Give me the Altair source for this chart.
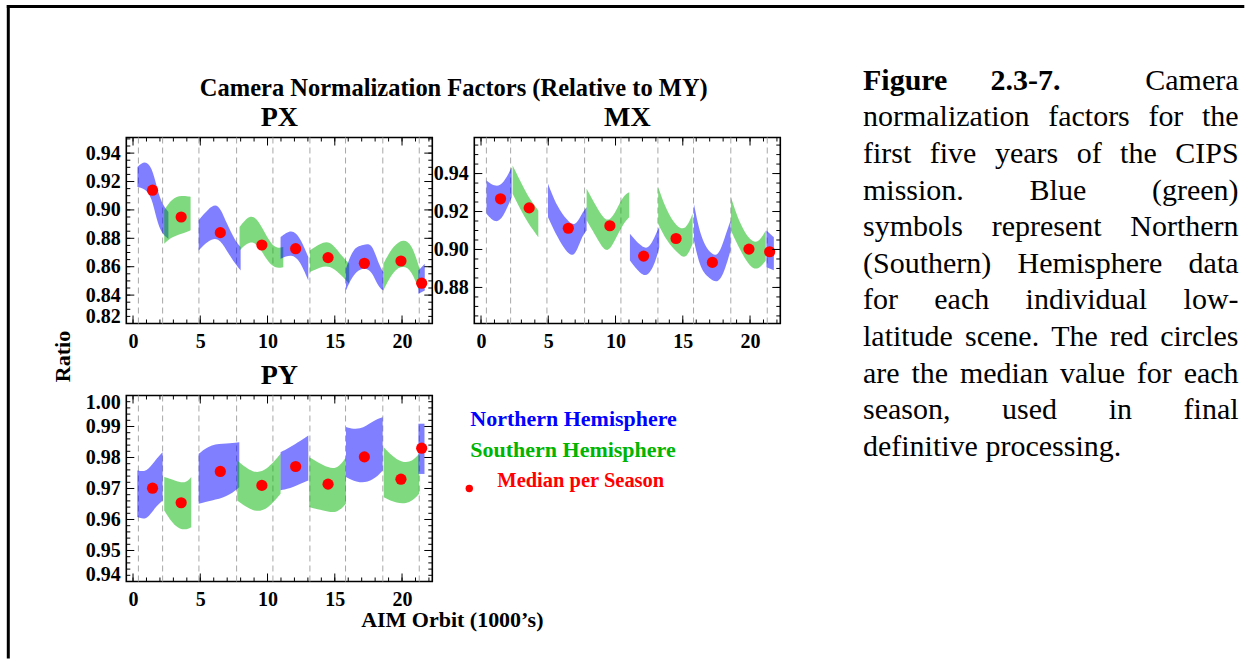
import altair as alt
import pandas as pd

FONT = "Liberation Serif"
BLUE = "#0000ff"
GREEN = "#00b400"
RED = "#ff0000"
W, H = 306, 186
CAP_W = 400

# ---------------- data ----------------
X_DOMAIN = [-0.5, 22.25]
X_MAJOR = [0, 5, 10, 15, 20]
X_MINOR = list(range(0, 23))
SEASON_LINES = [0.4, 2.2, 4.9, 7.7, 10.4, 13.15, 15.8, 18.57, 21.28]
HEMISPHERE = ["North", "South", "North", "South", "North", "South", "North", "South", "North"]

MEDIAN_ORBIT = [1.45, 3.58, 6.49, 9.58, 12.09, 14.5, 17.2, 19.92, 21.46]
PX_MEDIAN = [0.9139, 0.8950, 0.8840, 0.8753, 0.8727, 0.8664, 0.8624, 0.8640, 0.8484]
MX_MEDIAN = [0.9267, 0.9219, 0.9112, 0.9125, 0.8965, 0.9058, 0.8932, 0.9002, 0.8988]
PY_MEDIAN = [0.9701, 0.9654, 0.9755, 0.9710, 0.9771, 0.9714, 0.9802, 0.9730, 0.9830]

# scatter clouds, summarised per season as lower / upper envelope of the dense core
PX_ORBIT = [[0.33, 0.89, 1.39, 1.76, 2.13, 2.63], [2.32, 2.87, 3.62, 4.28],
            [4.88, 5.60, 6.34, 6.96, 7.58, 8.00], [7.92, 8.71, 9.33, 9.95, 10.55, 11.17],
            [10.97, 11.79, 12.41, 13.03], [13.15, 13.89, 14.63, 15.38, 16.07],
            [15.83, 16.38, 17.12, 17.74, 18.24, 18.61], [18.61, 19.35, 20.10, 20.71, 21.27],
            [21.22, 21.69]]
PX_LO = [[0.9162, 0.915, 0.9092, 0.8927, 0.8833, 0.8797], [0.8762, 0.8809, 0.8833, 0.8856],
         [0.8715, 0.8786, 0.8809, 0.8715, 0.8621, 0.8574], [0.8715, 0.8786, 0.8750, 0.8644, 0.8586, 0.8597],
         [0.8656, 0.8691, 0.8644, 0.8503], [0.8562, 0.8597, 0.8609, 0.855, 0.848],
         [0.8433, 0.855, 0.8597, 0.8574, 0.8456, 0.8433], [0.8433, 0.8574, 0.8609, 0.8574, 0.8433],
         [0.841, 0.8433]]
PX_HI = [[0.9303, 0.935, 0.9303, 0.9162, 0.9045, 0.8986], [0.8997, 0.908, 0.9103, 0.9092],
         [0.8927, 0.9009, 0.9056, 0.8903, 0.8786, 0.8738], [0.888, 0.8974, 0.8927, 0.8809, 0.8727, 0.8738],
         [0.8809, 0.8868, 0.8809, 0.8668], [0.8715, 0.8762, 0.8786, 0.8691, 0.8621],
         [0.8586, 0.8738, 0.875, 0.8774, 0.8621, 0.8562], [0.8621, 0.875, 0.8797, 0.8762, 0.8597],
         [0.8574, 0.8621]]

MX_ORBIT = [[0.41, 1.08, 1.66, 2.28], [2.35, 2.90, 3.52, 4.26],
            [4.98, 5.67, 6.41, 6.98, 7.48, 7.85], [7.85, 8.59, 9.34, 9.95, 10.57, 11.02],
            [11.07, 11.82, 12.44, 13.01, 13.25], [13.17, 13.79, 14.54, 15.23, 15.73],
            [15.83, 16.32, 17.02, 17.64, 18.13, 18.55], [18.58, 19.24, 19.98, 20.60, 21.17],
            [21.22, 21.77]]
MX_LO = [[0.9188, 0.9135, 0.917, 0.9275], [0.9293, 0.9214, 0.9135, 0.9065],
         [0.917, 0.9065, 0.8977, 0.896, 0.9065, 0.91], [0.9153, 0.9065, 0.8969, 0.9047, 0.9135, 0.917],
         [0.8942, 0.8872, 0.8854, 0.8942, 0.9012], [0.9135, 0.9047, 0.8986, 0.8942, 0.903],
         [0.9047, 0.889, 0.8846, 0.8819, 0.889, 0.8995], [0.91, 0.9, 0.8907, 0.889, 0.8942],
         [0.8907, 0.889]]
MX_HI = [[0.9363, 0.9328, 0.9346, 0.9433], [0.9442, 0.9363, 0.9275, 0.9205],
         [0.9346, 0.9223, 0.9153, 0.9118, 0.9188, 0.9223], [0.932, 0.9223, 0.9135, 0.9188, 0.9284, 0.9302],
         [0.9083, 0.9021, 0.8995, 0.9083, 0.9118], [0.9328, 0.9205, 0.9118, 0.91, 0.9188],
         [0.924, 0.9065, 0.8977, 0.896, 0.9065, 0.9153], [0.9275, 0.9135, 0.9047, 0.903, 0.91],
         [0.91, 0.9065]]

PY_ORBIT = [[0.32, 1.02, 1.64, 2.20], [2.32, 3.11, 3.87, 4.33],
            [4.88, 5.84, 6.96, 7.90], [7.75, 8.94, 9.93, 10.97],
            [10.97, 11.91, 13.03], [13.10, 14.14, 15.13, 15.83],
            [15.83, 16.87, 17.86, 18.56], [18.64, 19.59, 20.58, 21.27],
            [21.22, 21.67]]
PY_LO = [[0.9608, 0.9597, 0.964, 0.9661], [0.9629, 0.9575, 0.9565, 0.9575],
         [0.9651, 0.9661, 0.9672, 0.9704], [0.9661, 0.9624, 0.9629, 0.9683],
         [0.9694, 0.9704, 0.9726], [0.964, 0.9629, 0.9618, 0.9651],
         [0.9737, 0.9715, 0.9726, 0.9758], [0.9672, 0.9651, 0.9651, 0.9683],
         [0.9747, 0.9747]]
PY_HI = [[0.9758, 0.9753, 0.979, 0.9817], [0.9737, 0.9726, 0.9715, 0.9737],
         [0.9812, 0.9844, 0.9844, 0.9849], [0.979, 0.9747, 0.9758, 0.9812],
         [0.9817, 0.9839, 0.9871], [0.9801, 0.9774, 0.9758, 0.9801],
         [0.9898, 0.9887, 0.9919, 0.993], [0.9833, 0.979, 0.978, 0.9812],
         [0.9909, 0.9909]]

PX_DOMAIN = [0.82, 0.951]
MX_DOMAIN = [0.861, 0.959]
PY_DOMAIN = [0.94, 1.00]
PX_Y_MAJOR = [0.82, 0.84, 0.86, 0.88, 0.90, 0.92, 0.94]
MX_Y_MAJOR = [0.88, 0.90, 0.92, 0.94]
PY_Y_MAJOR = [0.94, 0.95, 0.96, 0.97, 0.98, 0.99, 1.00]
PX_Y_MINOR = [round(0.82 + 0.005 * i, 3) for i in range(27)]
MX_Y_MINOR = [round(0.865 + 0.005 * i, 3) for i in range(19)]
PY_Y_MINOR = [round(0.94 + 0.002 * i, 3) for i in range(31)]

CAPTION = [
    "Figure 2.3-7. Camera",
    "normalization factors for the",
    "first five years of the CIPS",
    "mission. Blue (green)",
    "symbols represent Northern",
    "(Southern) Hemisphere data",
    "for each individual low-",
    "latitude scene. The red circles",
    "are the median value for each",
    "season, used in final",
    "definitive processing.",
]
CAP_BOLD_WORDS = 2          # "Figure 2.3-7." is bold
FIRST_LINE_GAP_WEIGHTS = [1, 2]  # a tab follows the figure number

# ---------------- helpers ----------------
AX = dict(labelFont=FONT, labelFontWeight="bold", labelFontSize=20, labelColor="black",
          ticks=False, tickSize=0, domain=False, grid=False, title=None)


def label(text, x, y, size, color="black", align="center", baseline="middle", angle=0, weight="bold"):
    return alt.Chart(pd.DataFrame({"t": [text]})).mark_text(
        font=FONT, fontSize=size, fontWeight=weight, color=color, align=align,
        baseline=baseline, angle=angle).encode(x=alt.value(x), y=alt.value(y), text="t:N")


def panel(seg_orbit, seg_lo, seg_hi, medians, y_domain, y_major, y_minor):
    xs = alt.Scale(domain=X_DOMAIN, nice=False, zero=False)
    ys = alt.Scale(domain=y_domain, nice=False, zero=False)
    xa = alt.Axis(values=X_MAJOR, format="d", labelPadding=8, **AX)
    ya = alt.Axis(values=y_major, format=".2f", labelPadding=6, labelFlush=True,
                  labelFlushOffset=3, **AX)
    rows = []
    for k in range(len(seg_orbit)):
        for o, lo, hi in zip(seg_orbit[k], seg_lo[k], seg_hi[k]):
            rows.append({"seg": k, "hemi": HEMISPHERE[k], "orbit": o, "lo": lo, "hi": hi})
    bands_df = pd.DataFrame(rows)
    color = alt.Color("hemi:N", scale=alt.Scale(domain=["North", "South"], range=[BLUE, GREEN]),
                      legend=None)
    lines = alt.Chart(pd.DataFrame({"s": SEASON_LINES})).mark_rule(
        color="#a8a8a8", strokeDash=[6, 4], strokeWidth=1).encode(
        x=alt.X("s:Q", scale=xs, axis=xa))
    bands = alt.Chart(bands_df).mark_area(opacity=0.5, interpolate="basis").encode(
        x=alt.X("orbit:Q", scale=xs, axis=xa),
        y=alt.Y("lo:Q", scale=ys, axis=ya),
        y2="hi:Q", color=color, detail="seg:N")
    med = alt.Chart(pd.DataFrame({"orbit": MEDIAN_ORBIT, "v": medians})).mark_circle(
        size=125, color=RED, opacity=1).encode(
        x=alt.X("orbit:Q", scale=xs, axis=xa), y=alt.Y("v:Q", scale=ys, axis=ya))
    layers = [lines, bands, med]
    for vals, ln in ((y_major, 8), (y_minor, 4)):
        df = pd.DataFrame({"v": vals})
        for x0, x1 in ((0, ln), (W - ln, W)):
            layers.append(alt.Chart(df).mark_rule(color="black", strokeWidth=1).encode(
                y=alt.Y("v:Q", scale=ys, axis=ya), x=alt.value(x0), x2=alt.value(x1)))
    for vals, ln in ((X_MAJOR, 8), (X_MINOR, 4)):
        df = pd.DataFrame({"v": vals})
        for y0, y1 in ((H - ln, H), (0, ln)):
            layers.append(alt.Chart(df).mark_rule(color="black", strokeWidth=1).encode(
                x=alt.X("v:Q", scale=xs, axis=xa), y=alt.value(y0), y2=alt.value(y1)))
    return layers


# ---------------- panels ----------------
px_layers = panel(PX_ORBIT, PX_LO, PX_HI, PX_MEDIAN, PX_DOMAIN, PX_Y_MAJOR, PX_Y_MINOR)
px_layers += [
    label("Camera Normalization Factors (Relative to MY)", 327.5, -48.5, 24.5),
    label("PX", 153, -20, 28),
    label("Ratio", -63.5, 219, 22, angle=270),
    alt.Chart(pd.DataFrame({"a": [0]})).mark_rule(color="black", strokeWidth=3).encode(
        x=alt.value(-119.5), x2=alt.value(1118), y=alt.value(-131)),
    alt.Chart(pd.DataFrame({"a": [0]})).mark_rule(color="black", strokeWidth=3).encode(
        x=alt.value(-118), y=alt.value(-132.5), y2=alt.value(521)),
]
px = alt.layer(*px_layers).properties(width=W, height=H)

mx_layers = panel(MX_ORBIT, MX_LO, MX_HI, MX_MEDIAN, MX_DOMAIN, MX_Y_MAJOR, MX_Y_MINOR)
mx_layers += [label("MX", 153, -20, 28)]
mx = alt.layer(*mx_layers).properties(width=W, height=H)

py_layers = panel(PY_ORBIT, PY_LO, PY_HI, PY_MEDIAN, PY_DOMAIN, PY_Y_MAJOR, PY_Y_MINOR)
py_layers += [
    label("PY", 153, -19, 28),
    label("AIM Orbit (1000\u2019s)", 326, 225, 22),
    label("Northern Hemisphere", 344, 24, 22, color=BLUE, align="left"),
    label("Southern Hemisphere", 344, 55, 22, color=GREEN, align="left"),
    label("Median per Season", 371, 86, 20.5, color=RED, align="left"),
    alt.Chart(pd.DataFrame({"a": [0]})).mark_circle(size=55, color=RED, opacity=1).encode(
        x=alt.value(343), y=alt.value(93)),
]
py = alt.layer(*py_layers).properties(width=W, height=H)

# ---------------- caption (justified like the page text) ----------------
REG = dict(zip("abcdefghijklmnopqrstuvwxyz",
               [.444, .5, .444, .5, .444, .333, .5, .5, .278, .278, .5, .278, .778, .5, .5, .5, .5,
                .333, .389, .278, .5, .5, .722, .5, .5, .444]))
REG.update({"A": .722, "B": .667, "C": .667, "D": .722, "F": .556, "H": .722, "I": .333, "N": .722,
            "P": .556, "S": .556, "T": .611, "(": .333, ")": .333, ".": .25, ",": .25, "-": .333})
BOLD = {"F": .611, "i": .278, "g": .5, "u": .556, "r": .444, "e": .444, ".": .25, "-": .333}
CAP_FS = 30
CAP_L, CAP_R = 40.7, 416.3
CAP_Y0, CAP_DY = -47.7, 36.6


def wwidth(word, bold):
    tab = BOLD if bold else REG
    return sum(tab.get(c, .5) for c in word) * CAP_FS


cap_rows = []
for i, line in enumerate(CAPTION):
    words = line.split(" ")
    bolds = [i == 0 and j < CAP_BOLD_WORDS for j in range(len(words))]
    widths = [wwidth(w, b) for w, b in zip(words, bolds)]
    if i == len(CAPTION) - 1:
        gaps = [0.25 * CAP_FS] * (len(words) - 1)
    else:
        weights = FIRST_LINE_GAP_WEIGHTS if i == 0 else [1] * (len(words) - 1)
        unit = (CAP_R - CAP_L - sum(widths)) / sum(weights)
        gaps = [unit * g for g in weights]
    x = CAP_L
    for j, (w, b, wd) in enumerate(zip(words, bolds, widths)):
        cap_rows.append({"word": w, "x": x, "y": CAP_Y0 + CAP_DY * i, "bold": "b" if b else "r"})
        x += wd + (gaps[j] if j < len(gaps) else 0)
cap_df = pd.DataFrame(cap_rows)


def cap_layer(kind, weight):
    return alt.Chart(cap_df).transform_filter(alt.datum.bold == kind).mark_text(
        font=FONT, fontSize=CAP_FS, fontWeight=weight, align="left", baseline="alphabetic",
        color="black").encode(x=alt.X("x:Q", scale=None, axis=None),
                              y=alt.Y("y:Q", scale=None, axis=None), text="word:N")


cap = alt.layer(cap_layer("r", "normal"), cap_layer("b", "bold")).properties(
    width=CAP_W, height=H, view=alt.ViewBackground(strokeOpacity=0))

chart = alt.concat(px, mx, cap, py, columns=3, spacing={"row": 72, "column": 42},
                   bounds="flush", align="each").properties(
    padding={"left": 4.3, "top": 2.5, "right": 0, "bottom": 0}, background="white"
).configure(font=FONT).configure_view(stroke="black", strokeWidth=1.6)

chart.save("out.html", embed_options={"renderer": "svg", "actions": False})
